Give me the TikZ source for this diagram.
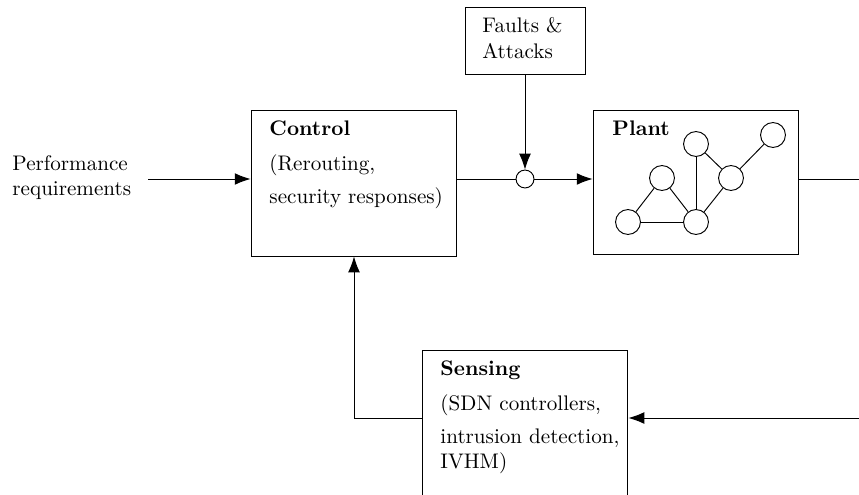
\documentclass[tikz,border=0pt]{standalone}
\usetikzlibrary{arrows.meta}
\begin{document}
\begin{tikzpicture}[x=0.474pt,y=-0.474pt,
  line width=0.45pt,
  arr/.style={-{Latex[length=7.5pt,width=5.6pt]}},
  blk/.style={draw,rectangle,inner sep=0pt},
  txt/.style={inner sep=0pt,anchor=base west},
  netnode/.style={draw,circle,fill=white,inner sep=0pt,minimum size=11.8pt},
  sumnode/.style={draw,circle,fill=white,inner sep=0pt,minimum size=8.5pt}]
\useasboundingbox (0,0) rectangle (859,494);
\clip (0,0) rectangle (859,494);
% boxes
\node[blk,minimum width=97.6pt,minimum height=69.2pt] (ctrl) at (354,183) {};
\node[blk,minimum width=97.6pt,minimum height=68.7pt] (plant) at (696,182.5) {};
\node[blk,minimum width=56.9pt,minimum height=32.2pt] (faults) at (525,41) {};
\node[blk,minimum width=97.6pt,minimum height=69.2pt] (sens) at (525,423) {};
\node[sumnode] (sum) at (525,179) {};
% texts
\node[txt] (perf1) at (12,170) {Performance};
\node[txt] (perf2) at (12,195) {requirements};
\node[txt] (ctrl1) at (269,135) {\textbf{Control}};
\node[txt] (ctrl2) at (269,170) {(Rerouting,};
\node[txt] (ctrl3) at (269,203) {security responses)};
\node[txt] (planttxt) at (612,135) {\textbf{Plant}};
\node[txt] (faults1) at (482,33) {Faults \&};
\node[txt] (faults2) at (482,58) {Attacks};
\node[txt] (sens1) at (440,375) {\textbf{Sensing}};
\node[txt] (sens2) at (440,410) {(SDN controllers,};
\node[txt] (sens3) at (440,443) {intrusion detection,};
\node[txt] (sens4) at (440,468) {IVHM)};
% network inside plant
\node[netnode] (n1) at (628,222) {};
\node[netnode] (n2) at (662,178) {};
\node[netnode] (n3) at (696,222) {};
\node[netnode] (n4) at (696,144) {};
\node[netnode] (n5) at (731,178) {};
\node[netnode] (n6) at (773,135) {};
\draw (n1) -- (n2);
\draw (n1) -- (n3);
\draw (n2) -- (n3);
\draw (n3) -- (n4);
\draw (n3) -- (n5);
\draw (n4) -- (n5);
\draw (n5) -- (n6);
% connectors
\coordinate (pin) at (148,179);
\coordinate (rout) at (880,179);
\coordinate (rin) at (880,418);
\draw[arr] (pin) -- (pin -| ctrl.west);
\draw (pin -| ctrl.east) -- (sum.west);
\draw[arr] (sum.east) -- (sum -| plant.west);
\draw[arr] (faults.south) -- (sum.north);
\draw (rout -| plant.east) -- (rout);
\draw[arr] (rin) -- (rin -| sens.east);
\draw[arr] (rin -| sens.west) -| (ctrl.south);
\end{tikzpicture}
\end{document}
